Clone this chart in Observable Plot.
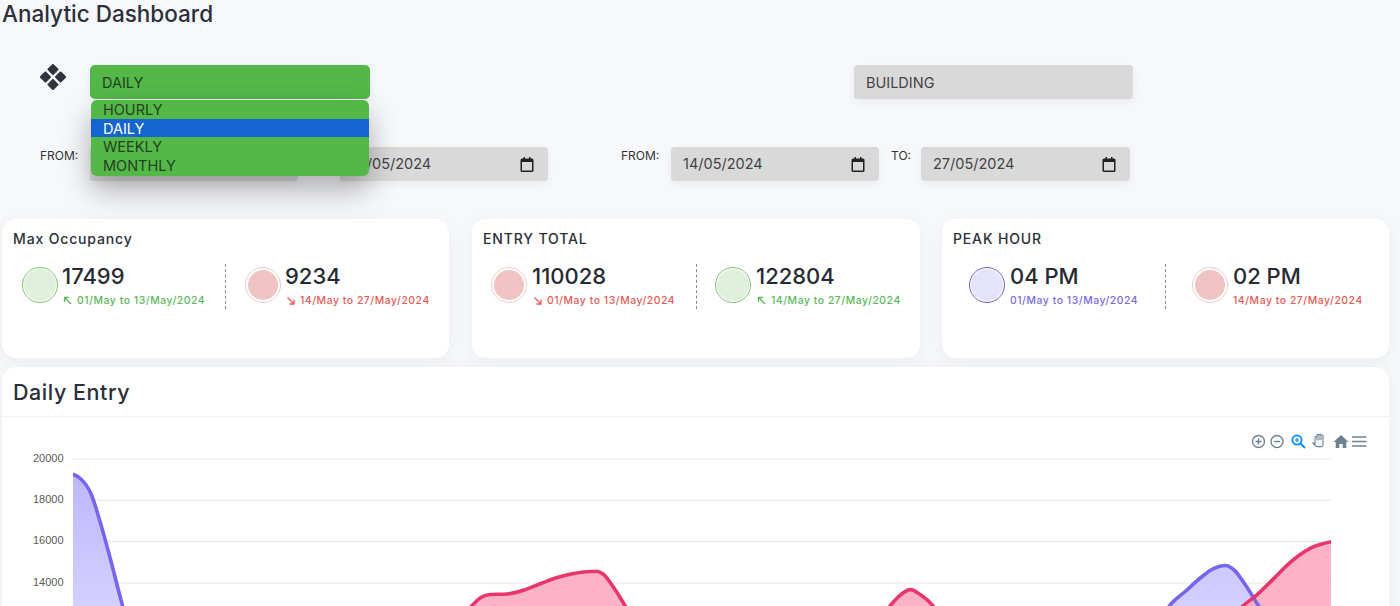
<!DOCTYPE html>
<html><head><meta charset="utf-8">
<script src="https://cdn.jsdelivr.net/npm/d3@7"></script>
<script src="https://cdn.jsdelivr.net/npm/@observablehq/plot@0.6"></script>
<style>
html,body{margin:0;padding:0;width:1400px;height:606px;overflow:hidden;background:#f7f8fb;font-family:Inter,"Noto Sans",sans-serif;color:#2b2f3a}
.a{position:absolute;white-space:nowrap}
.field{position:absolute;background:#d9d9d9;border-radius:4px;height:34px;box-shadow:0 3px 8px rgba(0,0,0,.06);font-size:14.5px;line-height:33px;color:#444;box-sizing:border-box;padding-left:12px}
.field svg{position:absolute;right:14px;top:10px}
.lab{position:absolute;font-size:12px;color:#333}
.card{position:absolute;background:#fff;border-radius:14px;box-shadow:0 4px 18px rgba(90,100,140,.07)}
.ctitle{position:absolute;font-size:14px;font-weight:500;color:#2b2f3a;letter-spacing:.85px}
.val{position:absolute;font-size:22px;font-weight:500;color:#262a33;line-height:26px}
.sub{position:absolute;font-size:10.4px;font-weight:500;line-height:14px;white-space:nowrap;letter-spacing:.55px}
.dash{position:absolute;width:0;top:264px;height:45px;border-left:1px dashed #888}
.circ{position:absolute;box-sizing:border-box;width:36px;height:36px;border-radius:50%;top:267px}
.opt{height:18.6px;line-height:20px;padding-left:12px;font-size:14.5px;color:#24421f}
#chart{position:absolute;left:0;top:440px}
#chart svg{display:block;background:transparent}
</style></head><body>
<div class="a" style="left:2px;top:0;font-size:22.5px;font-weight:500;line-height:28px;color:#2b2f3a">Analytic Dashboard</div>
<svg class="a" style="left:40px;top:64px" width="26" height="26" viewBox="0 0 26 26"><g fill="#2f3340"><rect x="8.8" y="1.2" width="8.4" height="8.4" rx="1" transform="rotate(45 13 5.4)"/><rect x="8.8" y="16.4" width="8.4" height="8.4" rx="1" transform="rotate(45 13 20.6)"/><rect x="1.2" y="8.8" width="8.4" height="8.4" rx="1" transform="rotate(45 5.4 13)"/><rect x="16.4" y="8.8" width="8.4" height="8.4" rx="1" transform="rotate(45 20.6 13)"/></g></svg>
<div class="field" style="left:90px;top:65px;width:280px;background:#53b848;color:#24421f;border-radius:5px;line-height:35px">DAILY</div>
<div class="field" style="left:854px;top:65px;width:279px;line-height:35px">BUILDING</div>
<div class="lab" style="left:40px;top:148px">FROM:</div>
<div class="field" style="left:90px;top:147px;width:208px"></div>
<div class="field" style="left:340px;top:147px;width:208px">13/05/2024<svg width="14" height="15" viewBox="0 0 14 15"><path fill="#222" d="M2 1.5h1.5V0H5v1.5h4V0h1.5v1.5H12a1.5 1.5 0 0 1 1.5 1.5v10.5A1.5 1.5 0 0 1 12 15H2a1.5 1.5 0 0 1-1.5-1.5V3A1.5 1.5 0 0 1 2 1.5zM2 5v8.5h10V5z"/></svg></div>
<div class="lab" style="left:621px;top:148px">FROM:</div>
<div class="field" style="left:671px;top:147px;width:208px">14/05/2024<svg width="14" height="15" viewBox="0 0 14 15"><path fill="#222" d="M2 1.5h1.5V0H5v1.5h4V0h1.5v1.5H12a1.5 1.5 0 0 1 1.5 1.5v10.5A1.5 1.5 0 0 1 12 15H2a1.5 1.5 0 0 1-1.5-1.5V3A1.5 1.5 0 0 1 2 1.5zM2 5v8.5h10V5z"/></svg></div>
<div class="lab" style="left:891px;top:148px">TO:</div>
<div class="field" style="left:921px;top:147px;width:209px">27/05/2024<svg width="14" height="15" viewBox="0 0 14 15"><path fill="#222" d="M2 1.5h1.5V0H5v1.5h4V0h1.5v1.5H12a1.5 1.5 0 0 1 1.5 1.5v10.5A1.5 1.5 0 0 1 12 15H2a1.5 1.5 0 0 1-1.5-1.5V3A1.5 1.5 0 0 1 2 1.5zM2 5v8.5h10V5z"/></svg></div>
<div class="a" style="left:91px;top:100px;width:278px;height:76px;background:#53b848;border-radius:6px;overflow:hidden;box-shadow:0 14px 30px rgba(0,0,0,.3)">
<div class="opt">HOURLY</div><div class="opt" style="background:#1565d0;color:#fff">DAILY</div><div class="opt">WEEKLY</div><div class="opt">MONTHLY</div></div>

<div class="card" style="left:2px;top:219px;width:447px;height:139px"></div>
<div class="card" style="left:472px;top:219px;width:448px;height:139px"></div>
<div class="card" style="left:942px;top:219px;width:447px;height:139px"></div>
<div class="card" style="left:2px;top:367px;width:1387px;height:300px"></div>
<div class="a" style="left:2px;top:416px;width:1387px;height:1px;background:#f1f2f5"></div>
<div class="ctitle" style="left:13px;top:230px">Max Occupancy</div>
<div class="ctitle" style="left:483px;top:230px">ENTRY TOTAL</div>
<div class="ctitle" style="left:953px;top:230px">PEAK HOUR</div>
<div class="a" style="left:13px;top:378px;font-size:21.5px;font-weight:500;line-height:28px;letter-spacing:.55px;color:#2b2f3a">Daily Entry</div>
<div id="stats"></div>
<svg class="a" style="left:1250px;top:432px" width="120" height="18" viewBox="0 0 120 18" fill="none">
<g stroke="#6e8192" stroke-width="1.4"><circle cx="8.5" cy="9.5" r="6"/><path d="M5.5 9.5h6M8.5 6.5v6"/><circle cx="27" cy="9.5" r="6"/><path d="M24 9.5h6"/></g>
<g stroke="#008ffb" stroke-width="1.8"><circle cx="47" cy="8" r="4.6"/><path d="M50.5 11.5l4.5 4.5"/><path stroke-width="1.2" d="M45 8h4M47 6v4"/></g>
<path stroke="#6e8192" stroke-width="1.1" d="M62.5 10.5l2.5 2V5.2a1 1 0 0 1 2 0v3-5a1 1 0 0 1 2 0v5-5.2a1 1 0 0 1 2 0v5.2-4.4a1 1 0 0 1 2 0v9.2c0 1-.7 1.6-1.6 1.6h-4.2a2 2 0 0 1-1.5-.7z"/>
<path fill="#6e8192" d="M91 3l7.5 7h-2.2v6h-3.6v-4h-3.4v4h-3.6v-6h-2.2z"/>
<path stroke="#6e8192" stroke-width="1.7" d="M102 5h14.5M102 9.5h14.5M102 14h14.5"/></svg>
<div id="chart"></div>
<script>
// --- Dashboard values ---
const statLabels = ["17499","9234","110028","122804","04 PM","02 PM"];
const statRanges = ["01/May to 13/May/2024","14/May to 27/May/2024"];
// --- Chart series: position along the 14 daily categories, and value ---
const purpleDay = [0,0.07,0.18,0.28,0.38,0.51,0.64,1.2,6,10.6,11.13,11.32,11.5,11.65,11.78,11.9,12.0,12.1,12.25,12.42,13];
const purpleVal = [19250,19056,18330,16878,15184,12861,11000,8000,5000,8000,11300,12861,13635,14265,14700,14845,14600,13975,12861,11500,9000];
const pinkDay = [0,2,3.79,3.9,4.11,4.21,4.31,4.48,4.67,4.83,5.0,5.17,5.34,5.41,5.49,5.55,5.70,5.86,7,8.24,8.44,8.55,8.65,8.75,8.88,9.06,10.5,11.85,12.08,12.22,12.40,12.56,12.80,13];
const pinkVal = [5000,6000,10500,11500,12860,13300,13440,13466,13680,13975,14265,14458,14555,14555,14360,14000,12900,11500,7000,11500,12900,13440,13680,13440,12900,11500,7000,11500,12860,13390,14200,14940,15720,16000];
const yTicks = [14000,16000,18000,20000];

const purple = purpleDay.map((d,i)=>({d,v:purpleVal[i]}));
const pink = pinkDay.map((d,i)=>({d,v:pinkVal[i]}));

const GREEN="#5cb85c",RED="#ea5a55",PURPLE="#7a6ae6";
const UP='<path d="M8 8L1.5 1.5M1.5 6V1.5H6"/>', DOWN='<path d="M1.5 1.5L8 8M8 3.5V8H3.5"/>';
const stats=[
 {circle:22,text:62,c:GREEN,fill:"#e1f0dc",ring:"#7fbf7a",inset:0,arrow:UP,r:0},
 {circle:245,text:285,c:RED,fill:"#efc4c2",ring:"#f0c9c6",inset:1,arrow:DOWN,r:1},
 {circle:491,text:532,c:RED,fill:"#efc4c2",ring:"#f0c9c6",inset:1,arrow:DOWN,r:0},
 {circle:715,text:756,c:GREEN,fill:"#e1f0dc",ring:"#7fbf7a",inset:0,arrow:UP,r:1},
 {circle:969,text:1010,c:PURPLE,fill:"#e6e3fc",ring:"#6e60d8",inset:0,arrow:null,r:0},
 {circle:1192,text:1233,c:RED,fill:"#efc4c2",ring:"#f0c9c6",inset:1,arrow:null,r:1}
];
document.getElementById("stats").innerHTML = stats.map((s,i)=>{
 const inner = s.inset
  ? `<div class="circ" style="left:${s.circle}px;border:1px solid ${s.ring};background:#fff"></div><div class="circ" style="left:${s.circle+3}px;top:270px;width:30px;height:30px;background:${s.fill}"></div>`
  : `<div class="circ" style="left:${s.circle}px;border:1px solid ${s.ring};background:#fff"></div><div class="circ" style="left:${s.circle+2}px;top:269px;width:32px;height:32px;background:${s.fill}"></div>`;
 const arrow = s.arrow ? `<svg class="a" style="left:${s.text+1}px;top:296px" width="10" height="10" viewBox="0 0 10 10" fill="none" stroke="${s.c}" stroke-width="1.3">${s.arrow}</svg>` : "";
 return inner+`<div class="val" style="left:${s.text}px;top:263px">${statLabels[i]}</div>`+arrow+
  `<div class="sub" style="left:${s.text+(s.arrow?15:0)}px;top:294px;color:${s.c}">${statRanges[s.r]}</div>`;
}).join("")+[225,696,1165].map(x=>`<div class="dash" style="left:${x}px"></div>`).join("");

const defs = () => d3.create("svg:defs").html(
 `<linearGradient id="pg" gradientUnits="userSpaceOnUse" x1="0" x2="0" y1="30" y2="166"><stop offset="0" stop-color="#bbb2fd"/><stop offset="1" stop-color="#d2cdff"/></linearGradient>`).node();

const plot = Plot.plot({
 width:1400,height:166,
 marginTop:18.5,marginBottom:0,marginLeft:73,marginRight:69,
 x:{domain:[0,13],axis:null},
 y:{domain:[12862,20000],range:[166,18.5],axis:null},
 style:{background:"transparent"},
 marks:[
  defs,
  Plot.ruleY(yTicks,{stroke:"#e6e7ea",strokeWidth:1.2}),
  Plot.areaY(purple,{x:"d",y1:0,y2:"v",fill:"url(#pg)",fillOpacity:.95,curve:"monotone-x",clip:true}),
  Plot.areaY(pink,{x:"d",y1:0,y2:"v",fill:"#fca9bf",fillOpacity:.88,curve:"monotone-x",clip:true}),
  Plot.lineY(purple,{x:"d",y:"v",stroke:"#7566ec",strokeWidth:3.6,curve:"monotone-x",clip:true}),
  Plot.lineY(pink,{x:"d",y:"v",stroke:"#e8366b",strokeWidth:3.6,curve:"monotone-x",clip:true}),
  Plot.axisY(yTicks,{anchor:"left",tickSize:0,tickPadding:10,tickFormat:d=>String(d),fontSize:11,fontFamily:"Liberation Sans",fill:"#5a5a5a",color:"#5a5a5a",dy:-1,label:null})
 ]
});
document.getElementById("chart").appendChild(plot);
</script>
</body></html>
